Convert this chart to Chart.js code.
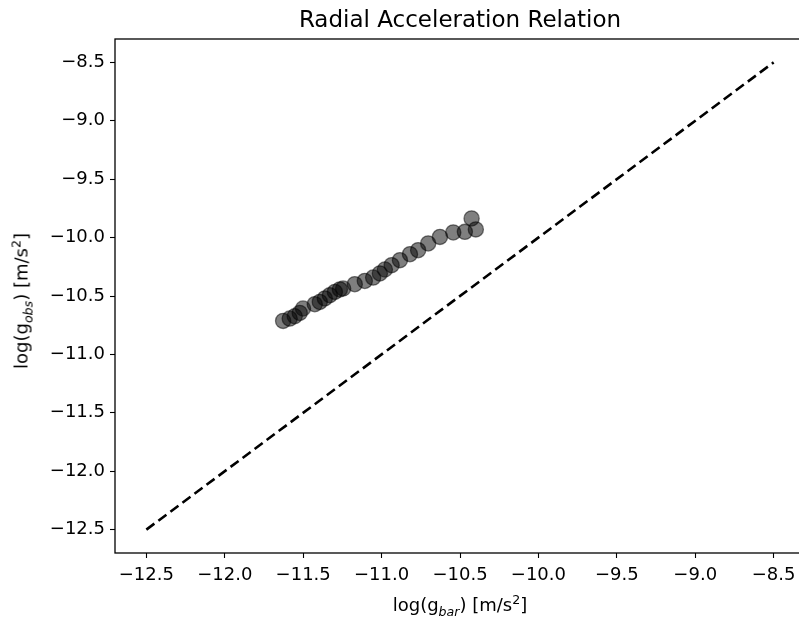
<!DOCTYPE html>
<html>
<head>
<meta charset="utf-8">
<script src="https://cdn.jsdelivr.net/npm/chart.js@4"></script>
<style>
    body { margin: 0; background: #fff; overflow: hidden; }
    #wrap { position: relative; width: 799px; height: 624px; overflow: hidden; font-family: 'DejaVu Sans', sans-serif; color: #000; }
    #rarChart { position: absolute; left: 0; top: 0; }
    #title { position: absolute; left: 115px; width: 690px; top: 6px; text-align: center; font-size: 23px; white-space: nowrap; }
    #xlabel { position: absolute; left: 115px; width: 690px; top: 594px; text-align: center; font-size: 18px; white-space: nowrap; }
    #ylabel { position: absolute; left: 21px; top: 301px; transform: translate(-50%, -50%) rotate(-90deg); white-space: nowrap; font-size: 18px; }
    sub, sup { font-size: 70%; line-height: 0; }
</style>
</head>
<body>
<div id="wrap">
    <!-- the picture is cut off on the right, so the canvas runs past the window edge -->
    <canvas id="rarChart" width="830" height="624"></canvas>
    <div id="title">Radial Acceleration Relation</div>
    <div id="xlabel">log(g<sub><i>bar</i></sub>) [m/s<sup>2</sup>]</div>
    <div id="ylabel">log(g<sub><i>obs</i></sub>) [m/s<sup>2</sup>]</div>
</div>
<script>
// values
const gBar = [-11.628, -11.586, -11.554, -11.522, -11.501, -11.426, -11.394, -11.362, -11.330, -11.298,
    -11.266, -11.245, -11.171, -11.107, -11.054, -11.011, -10.979, -10.936, -10.883, -10.819,
    -10.767, -10.703, -10.628, -10.543, -10.469, -10.426, -10.399];
const gObs = [-10.713, -10.693, -10.673, -10.645, -10.607, -10.570, -10.551, -10.521, -10.493, -10.465,
    -10.444, -10.436, -10.399, -10.371, -10.342, -10.307, -10.273, -10.236, -10.193, -10.142,
    -10.108, -10.050, -9.994, -9.956, -9.951, -9.836, -9.930];
const lineX = [-12.5, -8.5];
const lineY = [-12.5, -8.5];

const fmt = v => (v < 0 ? '\u2212' : '') + Math.abs(v).toFixed(1);

const frame = {
    id: 'frame',
    afterDatasetsDraw(chart) {
        const { ctx, chartArea: a } = chart;
        ctx.save();
        ctx.strokeStyle = '#000';
        ctx.lineWidth = 1.3;
        ctx.strokeRect(a.left, a.top, a.right - a.left, a.bottom - a.top);
        ctx.restore();
    }
};

const tickFont = { family: 'DejaVu Sans', size: 18 };

new Chart(document.getElementById('rarChart').getContext('2d'), {
    type: 'scatter',
    data: {
        datasets: [
            {
                type: 'line',
                data: lineX.map((x, i) => ({ x: x, y: lineY[i] })),
                borderColor: '#000',
                borderWidth: 2.6,
                borderDash: [10, 5],
                pointRadius: 0,
                fill: false
            },
            {
                data: gBar.map((x, i) => ({ x: x, y: gObs[i] })),
                backgroundColor: 'rgba(0, 0, 0, 0.5)',
                borderColor: 'rgba(0, 0, 0, 0.5)',
                borderWidth: 1.3,
                pointRadius: 7.6
            }
        ]
    },
    options: {
        responsive: false,
        animation: false,
        layout: { padding: { top: 39, right: 25, left: 0, bottom: 0 } },
        plugins: { legend: { display: false }, tooltip: { enabled: false } },
        scales: {
            x: {
                type: 'linear',
                min: -12.7,
                max: -8.3,
                afterFit: s => { s.height = 71; },
                border: { display: false },
                grid: { drawOnChartArea: false, drawTicks: true, tickLength: 5, tickColor: '#000', tickWidth: 1.1 },
                ticks: { stepSize: 0.5, includeBounds: false, color: '#000', font: tickFont, padding: 7, maxRotation: 0, callback: fmt }
            },
            y: {
                type: 'linear',
                min: -12.7,
                max: -8.3,
                afterFit: s => { s.width = 115; },
                border: { display: false },
                grid: { drawOnChartArea: false, drawTicks: true, tickLength: 5, tickColor: '#000', tickWidth: 1.1 },
                ticks: { stepSize: 0.5, includeBounds: false, color: '#000', font: tickFont, padding: 5, callback: fmt }
            }
        }
    },
    plugins: [frame]
});
</script>
</body>
</html>
